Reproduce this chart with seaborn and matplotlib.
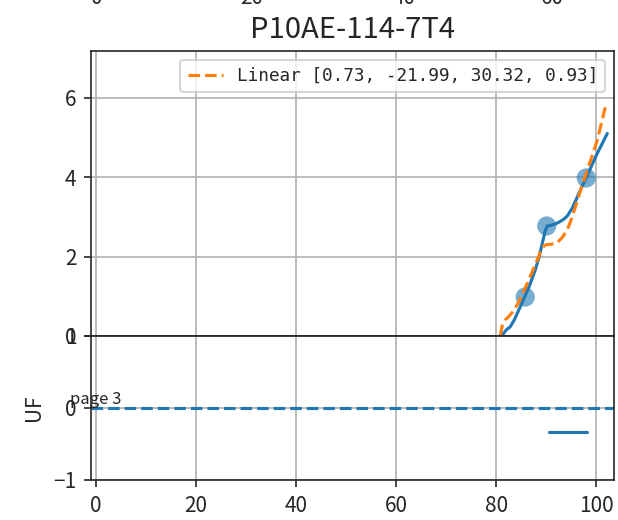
import matplotlib
matplotlib.use('Agg')
import matplotlib.pyplot as plt
import seaborn as sns
import pandas as pd

sns.set_style('ticks')
plt.rcParams['font.family'] = ['Noto Sans CJK SC', 'DejaVu Sans']

title = 'P10AE-114-7T4'
fit_label = 'Linear [0.73, -21.99, 30.32, 0.93]'

# measured points
pts_x = [85.8, 90.1, 98.0]
pts_y = [0.98, 2.77, 3.98]

# smooth curve through points
curve_x = [81.4, 82.0, 82.8, 83.6, 84.5, 85.4, 86.6, 87.8, 88.6, 89.2, 89.8, 90.2,
           91.0, 91.8, 92.6, 93.4, 94.2, 95.2, 96.2, 97.1, 98.0, 99.1, 100.2, 101.2, 102.2]
curve_y = [0.05, 0.15, 0.23, 0.4, 0.65, 0.9, 1.25, 1.66, 2.0, 2.33, 2.65, 2.77,
           2.79, 2.82, 2.87, 2.93, 3.02, 3.22, 3.5, 3.75, 3.98, 4.3, 4.6, 4.85, 5.1]

# linear fit curve
fit_x = [80.8, 81.2, 81.8, 82.6, 83.4, 84.5, 85.6, 86.8, 88.0, 88.8, 89.4, 90.0,
         91.0, 92.2, 93.2, 94.2, 95.2, 96.2, 97.2, 98.2, 99.2, 100.2, 101.0, 101.8]
fit_y = [0.0, 0.25, 0.4, 0.5, 0.62, 0.85, 1.15, 1.5, 1.85, 2.1, 2.25, 2.3,
         2.31, 2.35, 2.48, 2.67, 3.0, 3.4, 3.8, 4.17, 4.55, 4.93, 5.35, 5.76]

# lower panel
uf_level = 0
seg_x = [90.6, 98.2]
seg_y = [-0.33, -0.33]

# leftover tick labels of the panel above (cropped)
top_ticks = ['0', '20', '40', '60']
top_tick_px = [97, 252, 404, 552]

fig = plt.figure(figsize=(618 / 150, 520 / 150), dpi=150)
ax1 = fig.add_axes([0.147, 0.354, 0.847, 0.548])
ax2 = fig.add_axes([0.147, 0.077, 0.847, 0.277], sharex=ax1)

curve = pd.DataFrame({'x': curve_x, 'y': curve_y})
fit = pd.DataFrame({'x': fit_x, 'y': fit_y})

sns.scatterplot(x=pts_x, y=pts_y, ax=ax1, s=85, alpha=0.6, color='C0', edgecolor='none')
sns.lineplot(data=curve, x='x', y='y', ax=ax1, sort=False, estimator=None, color='C0', lw=1.5)
sns.lineplot(data=fit, x='x', y='y', ax=ax1, sort=False, estimator=None, color='C1',
             lw=1.5, ls='--', label=fit_label)
ax1.set_ylim(0, 7.18)
ax1.set_yticks([0, 2, 4, 6])
ax1.grid(True, color='#b0b0b0', lw=0.8)
ax1.set_xlabel('')
ax1.set_ylabel('')
ax1.tick_params(labelbottom=False)
ax1.set_title(title, fontsize=14)
ax1.legend(loc='upper right', prop={'family': 'DejaVu Sans Mono', 'size': 8.5})

ax2.axhline(uf_level, ls='--', color='C0', lw=1.5)
sns.lineplot(x=seg_x, y=seg_y, ax=ax2, color='C0', lw=1.5)
ax2.text(0, uf_level, 'page 3', ha='center', va='bottom', fontsize=8)
ax2.set_ylim(-1, 1)
ax2.set_yticks([-1, 0, 1])
ax2.set_xlim(-1, 103.6)
ax2.set_xticks([0, 20, 40, 60, 80, 100])
ax2.grid(True, color='#b0b0b0', lw=0.8)
ax2.set_ylabel('UF')

for t, px in zip(top_ticks, top_tick_px):
    fig.text(px / 618, 1 - 4 / 520, t, ha='center', va='baseline', fontsize=10)

fig.savefig('out.png', dpi=150)
